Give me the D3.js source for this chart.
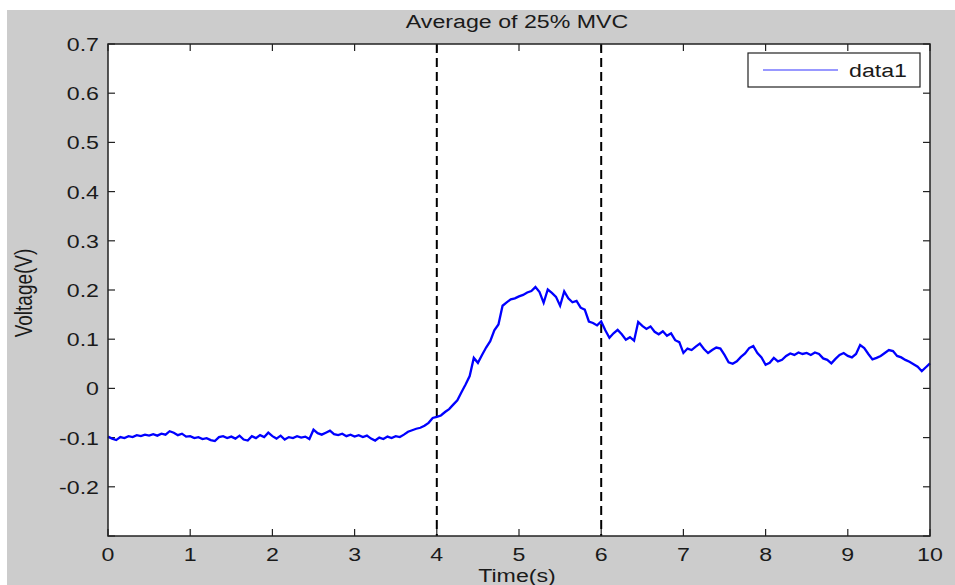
<!DOCTYPE html>
<html>
<head>
<meta charset="utf-8">
<style>
  body { margin: 0; background: #fff; }
  svg { display: block; }
</style>
</head>
<body>
<svg width="955" height="585" font-family="'Liberation Sans', Arial, sans-serif"></svg>
<script src="https://cdn.jsdelivr.net/npm/d3@7"></script>
<script>

// sample step of the trace, seconds
var dt = 0.05;

// voltage, one value every 0.05 s from 0 to 10 s
var voltage = [
  -0.098, -0.102, -0.105, -0.099, -0.101, -0.097, -0.099, -0.095, -0.097, -0.094,
  -0.096, -0.093, -0.096, -0.092, -0.094, -0.087, -0.090, -0.095, -0.092, -0.098,
  -0.097, -0.101, -0.099, -0.103, -0.101, -0.105, -0.107, -0.099, -0.097, -0.101,
  -0.098, -0.102, -0.096, -0.104, -0.106, -0.097, -0.101, -0.095, -0.099, -0.090,
  -0.097, -0.102, -0.096, -0.104, -0.099, -0.101, -0.097, -0.100, -0.098, -0.103,
  -0.084, -0.091, -0.094, -0.090, -0.086, -0.093, -0.095, -0.092, -0.097, -0.094,
  -0.098, -0.095, -0.099, -0.096, -0.102, -0.106, -0.100, -0.103, -0.098, -0.101,
  -0.097, -0.099, -0.094, -0.088, -0.085, -0.082, -0.080, -0.076, -0.070, -0.060,
  -0.058, -0.055, -0.048, -0.042, -0.033, -0.024, -0.008,  0.008,  0.025,  0.062,
   0.052,  0.068,  0.083,  0.096,  0.118,  0.130,  0.168,  0.175,  0.181,  0.183,
   0.187,  0.190,  0.195,  0.198,  0.206,  0.196,  0.174,  0.201,  0.194,  0.186,
   0.168,  0.197,  0.183,  0.175,  0.178,  0.164,  0.160,  0.136,  0.133,  0.128,
   0.136,  0.118,  0.103,  0.112,  0.119,  0.110,  0.099,  0.104,  0.097,  0.135,
   0.127,  0.121,  0.126,  0.115,  0.110,  0.116,  0.107,  0.112,  0.098,  0.094,
   0.072,  0.081,  0.078,  0.085,  0.091,  0.080,  0.072,  0.078,  0.083,  0.081,
   0.068,  0.053,  0.050,  0.055,  0.064,  0.071,  0.082,  0.086,  0.072,  0.063,
   0.048,  0.052,  0.062,  0.055,  0.058,  0.066,  0.071,  0.068,  0.073,  0.070,
   0.072,  0.068,  0.073,  0.070,  0.061,  0.058,  0.051,  0.060,  0.068,  0.072,
   0.066,  0.063,  0.070,  0.088,  0.082,  0.070,  0.059,  0.062,  0.066,  0.072,
   0.078,  0.076,  0.066,  0.063,  0.058,  0.054,  0.049,  0.044,  0.035,  0.043,
   0.051
];

var xTicks = [0, 1, 2, 3, 4, 5, 6, 7, 8, 9, 10];
var yTicks = [-0.3, -0.2, -0.1, 0, 0.1, 0.2, 0.3, 0.4, 0.5, 0.6, 0.7];
var yTickLabels = ["", "-0.2", "-0.1", "0", "0.1", "0.2", "0.3", "0.4", "0.5", "0.6", "0.7"];
var markers = [4, 6];

var svg = d3.select("svg");

// the picture is stretched sideways, so text gets a horizontal scale too
var stretch = 1.22;
var fontSize = 19;

var plotL = 108, plotR = 930, plotT = 44, plotB = 536;

var x = d3.scaleLinear().domain([0, 10]).range([plotL, plotR]);
var y = d3.scaleLinear().domain([-0.3, 0.7]).range([plotB, plotT]);

svg.append("rect")
    .attr("x", 7).attr("y", 10)
    .attr("width", 955 - 7).attr("height", 585 - 10)
    .attr("fill", "#cccccc");

svg.append("rect")
    .attr("x", plotL).attr("y", plotT)
    .attr("width", plotR - plotL).attr("height", plotB - plotT)
    .attr("fill", "#ffffff");

function label(px, py, str, anchor, rotate) {
  return svg.append("text")
      .attr("transform", "translate(" + px + "," + py + ") scale(" + stretch + ",1)" + (rotate ? " rotate(-90)" : ""))
      .attr("text-anchor", anchor)
      .attr("font-size", fontSize)
      .attr("fill", "#1a1a1a")
      .text(str);
}

// inward ticks on all four sides, MATLAB box style
var tickLen = 7;
var ticks = svg.append("g").attr("stroke", "#222").attr("stroke-width", 1.2);

xTicks.forEach(function(t) {
  ticks.append("line").attr("x1", x(t)).attr("x2", x(t)).attr("y1", plotB).attr("y2", plotB - tickLen);
  ticks.append("line").attr("x1", x(t)).attr("x2", x(t)).attr("y1", plotT).attr("y2", plotT + tickLen);
  label(x(t), 561, String(t), "middle");
});

yTicks.forEach(function(v, i) {
  ticks.append("line").attr("x1", plotL).attr("x2", plotL + tickLen).attr("y1", y(v)).attr("y2", y(v));
  ticks.append("line").attr("x1", plotR).attr("x2", plotR - tickLen).attr("y1", y(v)).attr("y2", y(v));
  if (yTickLabels[i]) label(99, y(v) + 7, yTickLabels[i], "end");
});

// dashed markers
markers.forEach(function(t) {
  svg.append("line")
      .attr("x1", x(t)).attr("x2", x(t))
      .attr("y1", plotT).attr("y2", plotB)
      .attr("stroke", "#000")
      .attr("stroke-width", 2)
      .attr("stroke-dasharray", "9,5");
});

var line = d3.line()
    .x(function(d, i) { return x(i * dt); })
    .y(function(d) { return y(d); });

svg.append("path")
    .datum(voltage)
    .attr("fill", "none")
    .attr("stroke", "#0000ff")
    .attr("stroke-width", 2.3)
    .attr("stroke-linejoin", "miter")
    .attr("d", line);

svg.append("rect")
    .attr("x", plotL).attr("y", plotT)
    .attr("width", plotR - plotL).attr("height", plotB - plotT)
    .attr("fill", "none")
    .attr("stroke", "#222")
    .attr("stroke-width", 1.5);

// legend
var legend = svg.append("g");
legend.append("rect")
    .attr("x", 748).attr("y", 53)
    .attr("width", 172).attr("height", 34)
    .attr("fill", "#fff")
    .attr("stroke", "#222")
    .attr("stroke-width", 1.2);
legend.append("line")
    .attr("x1", 763).attr("x2", 838)
    .attr("y1", 70).attr("y2", 70)
    .attr("stroke", "#3333ff")
    .attr("stroke-width", 1.2);
label(849, 77, "data1", "start");

// titles
label(517, 28, "Average of 25% MVC", "middle");
label(517, 582, "Time(s)", "middle");
label(32, 293, "Voltage(V)", "middle", true);

</script>
</body>
</html>
